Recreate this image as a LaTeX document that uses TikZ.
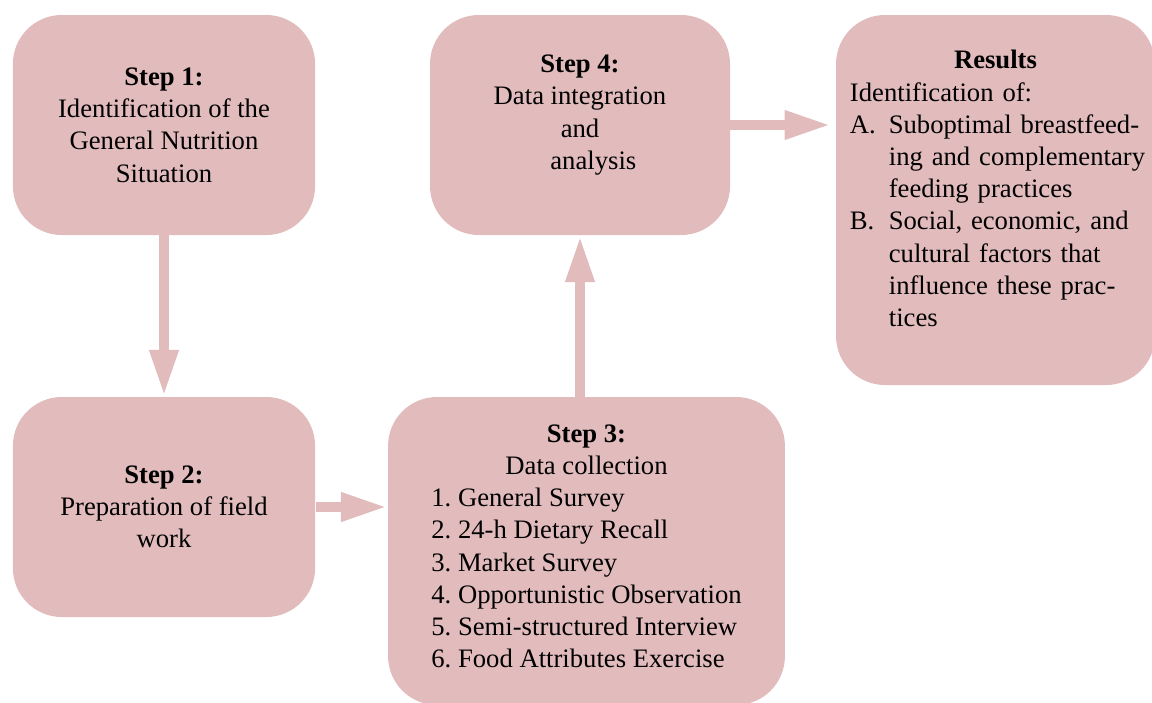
\documentclass[tikz,border=0pt,12pt]{standalone}
\usepackage{fontspec}
\setmainfont{Liberation Serif}
\usepackage{tikz}
\usetikzlibrary{arrows.meta}
\definecolor{stepPink}{RGB}{226,188,189}
\tikzset{
  every picture/.style={font={\normalsize}, >={Triangle[length=21pt,width=12pt]}}}

\begin{document}
\frenchspacing
\begin{tikzpicture}[x=0.45pt, y=-0.45pt,
    stepBox/.style={
      fill=stepPink, rounded corners=22pt,
      align=center, inner sep=0pt,
      minimum width=136pt, minimum height=99pt},
    flow/.style={->, draw=stepPink, line width=4.7pt}]
  \useasboundingbox (0,0) rectangle (1152,702);

  \node[stepBox] (step1) at (164,125)
    {\textbf{Step 1:}\\ Identification of the\\ General Nutrition\\ Situation};
  \node[stepBox] (step2) at (164,507)
    {\textbf{Step 2:}\\ Preparation of field\\ work};
  \node[stepBox, minimum width=178.6pt, minimum height=138.6pt] (step3) at (586.5,551)
  {
    \textbf{Step 3:}\\ Data collection\\
    \begin{tabular}[t]{@{}l@{}}
      1. General Survey\\
      2. 24-h Dietary Recall\\
      3. Market Survey\\
      4. Opportunistic Observation\\
      5. Semi-structured Interview\\
      6. Food Attributes Exercise
    \end{tabular}
  };
  \node[stepBox, minimum width=135pt] (step4) at (580,125)
    {\textbf{Step 4:}\\ Data integration\\ and\\ \hspace*{12pt}analysis\\[-3pt] \mbox{}};
  \node[stepBox, minimum width=143.5pt, minimum height=166.5pt,
        text width=131pt, align=left] (results) at (995.5,200)
  {
    {\centering\textbf{Results}\par}
    Identification of:\par
    \begin{tabular}[t]{@{}p{17.5pt}@{}l@{}}
      A. & Suboptimal breastfeed-\\
         & ing and complementary\\
         & feeding practices\\
      B. & Social, economic, and\\
         & cultural factors that\\
         & influence these prac-\\
         & tices
    \end{tabular}\par
    \rule{0pt}{5pt}
  };

  % arrows between the steps
  \draw[flow] (step1.south) -- (step2.north);
  \draw[flow] (step2.east) -- (step2.east -| step3.west);
  \draw[flow] (step4.south |- step3.north) -- (step4.south);
  \draw[flow, shorten >=2pt] (step4.east) -- (step4.east -| results.west);
\end{tikzpicture}
\end{document}
